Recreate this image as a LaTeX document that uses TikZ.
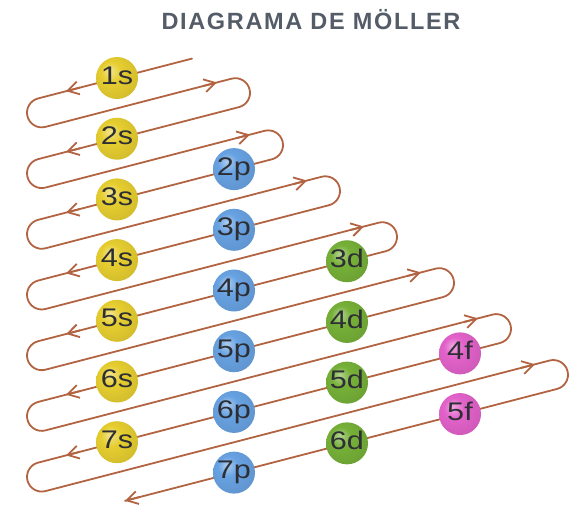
\documentclass[tikz,border=0pt]{standalone}
\usepackage{fontspec}
\setmainfont{Liberation Sans}
\newfontfamily\titlefont[LetterSpace=7]{Liberation Sans Bold}
\usetikzlibrary{arrows.meta}
\definecolor{wirec}{RGB}{178,100,66}
\definecolor{ys}{RGB}{230,206,48}
\definecolor{bp}{RGB}{104,162,226}
\definecolor{gd}{RGB}{118,176,56}
\definecolor{pf}{RGB}{226,98,202}
\definecolor{titlec}{RGB}{84,92,104}
\definecolor{labc}{RGB}{45,47,52}
\colorlet{myball}{ys}
\pgfdeclareradialshading[myball]{softball}{\pgfqpoint{-9bp}{9bp}}{%
 color(0bp)=(myball!55!white);
 color(12bp)=(myball);
 color(30bp)=(myball!92!black);
 color(42bp)=(myball!78!black);
 color(60bp)=(myball!65!black)}
\begin{document}
\begin{tikzpicture}[x=1pt,y=-1pt,
  wire/.style={draw=wirec, line width=1.8pt, line cap=round, line join=round},
  tipv/.style={draw=wirec, line width=1.8pt, -{Straight Barb[length=11pt,width=13pt]}},
  orb/.style={circle, minimum size=42pt, inner sep=0pt, shading=softball,
    /utils/exec={\colorlet{myball}{#1}}, text=labc,
    font=\fontsize{25.5}{25.5}\selectfont, text height=18.3pt, text depth=6pt}]
\useasboundingbox (0,0) rectangle (570,507);
\node[font=\titlefont\fontsize{23.5}{23.5}\selectfont, text=titlec, anchor=base] (title) at (311,29) {DIAGRAMA DE MÖLLER};
\foreach \k/\X in {1/250,2/283,3/340,4/397,5/454,6/511,7/568}{
  \pgfmathsetmacro\Yk{78+60.7*(\k-1)}
  \pgfmathsetmacro\ly{\Yk+20.457}
  \coordinate (La\k) at (38.02,\ly);
  \pgfmathsetmacro\cx{\X-14.69}
  \pgfmathsetmacro\cy{\Yk+45.525+0.259*(117-\cx)}
  \pgfmathsetmacro\rax{\cx-3.683}
  \pgfmathsetmacro\ray{\cy-14.221}
  \coordinate (Ra\k) at (\rax,\ray);
  \pgfmathsetmacro\ta{\Yk+13.21}
  \pgfmathsetmacro\tb{\Yk+9.58}
  \coordinate (At\k) at (66,\ta);
  \coordinate (Aq\k) at (80,\tb);
  \pgfmathsetmacro\bx{\X-33}
  \pgfmathsetmacro\by{\Yk+30.35+0.259*(117-\bx)}
  \pgfmathsetmacro\qx{\bx-14}
  \pgfmathsetmacro\qy{\Yk+30.35+0.259*(117-\qx)}
  \coordinate (Bt\k) at (\bx,\by);
  \coordinate (Bq\k) at (\qx,\qy);
}
\coordinate (S) at (192,58.6);
\coordinate (E) at (125,500.83);
\coordinate (Eq) at (140,496.94);
\draw[wire] (S) foreach \k in {1,...,7}{ -- (La\k) arc[start angle=255.48,end angle=75.48,radius=14.69] -- (Ra\k) arc[start angle=-104.52,end angle=75.48,radius=14.69]} -- (E);
\foreach \k in {1,...,7}{
  \draw[tipv] (Aq\k) -- (At\k);
  \draw[tipv] (Bq\k) -- (Bt\k);
}
\draw[tipv] (Eq) -- (E);
\foreach \n/\l/\xx/\c/\t in {1/0/117/ys/s,2/0/117/ys/s,3/0/117/ys/s,4/0/117/ys/s,5/0/117/ys/s,6/0/117/ys/s,7/0/117/ys/s,
  2/1/234/bp/p,3/1/234/bp/p,4/1/234/bp/p,5/1/234/bp/p,6/1/234/bp/p,7/1/234/bp/p,
  3/2/347/gd/d,4/2/347/gd/d,5/2/347/gd/d,6/2/347/gd/d,
  4/3/460/pf/f,5/3/460/pf/f}{
  \pgfmathsetmacro\yy{78+60.7*(\n+\l-1)-0.259*(\xx-117)}
  \node[orb=\c] (\t\n) at (\xx,\yy) {\scalebox{1.2}[1]{\n\t}};
}
\end{tikzpicture}
\end{document}
